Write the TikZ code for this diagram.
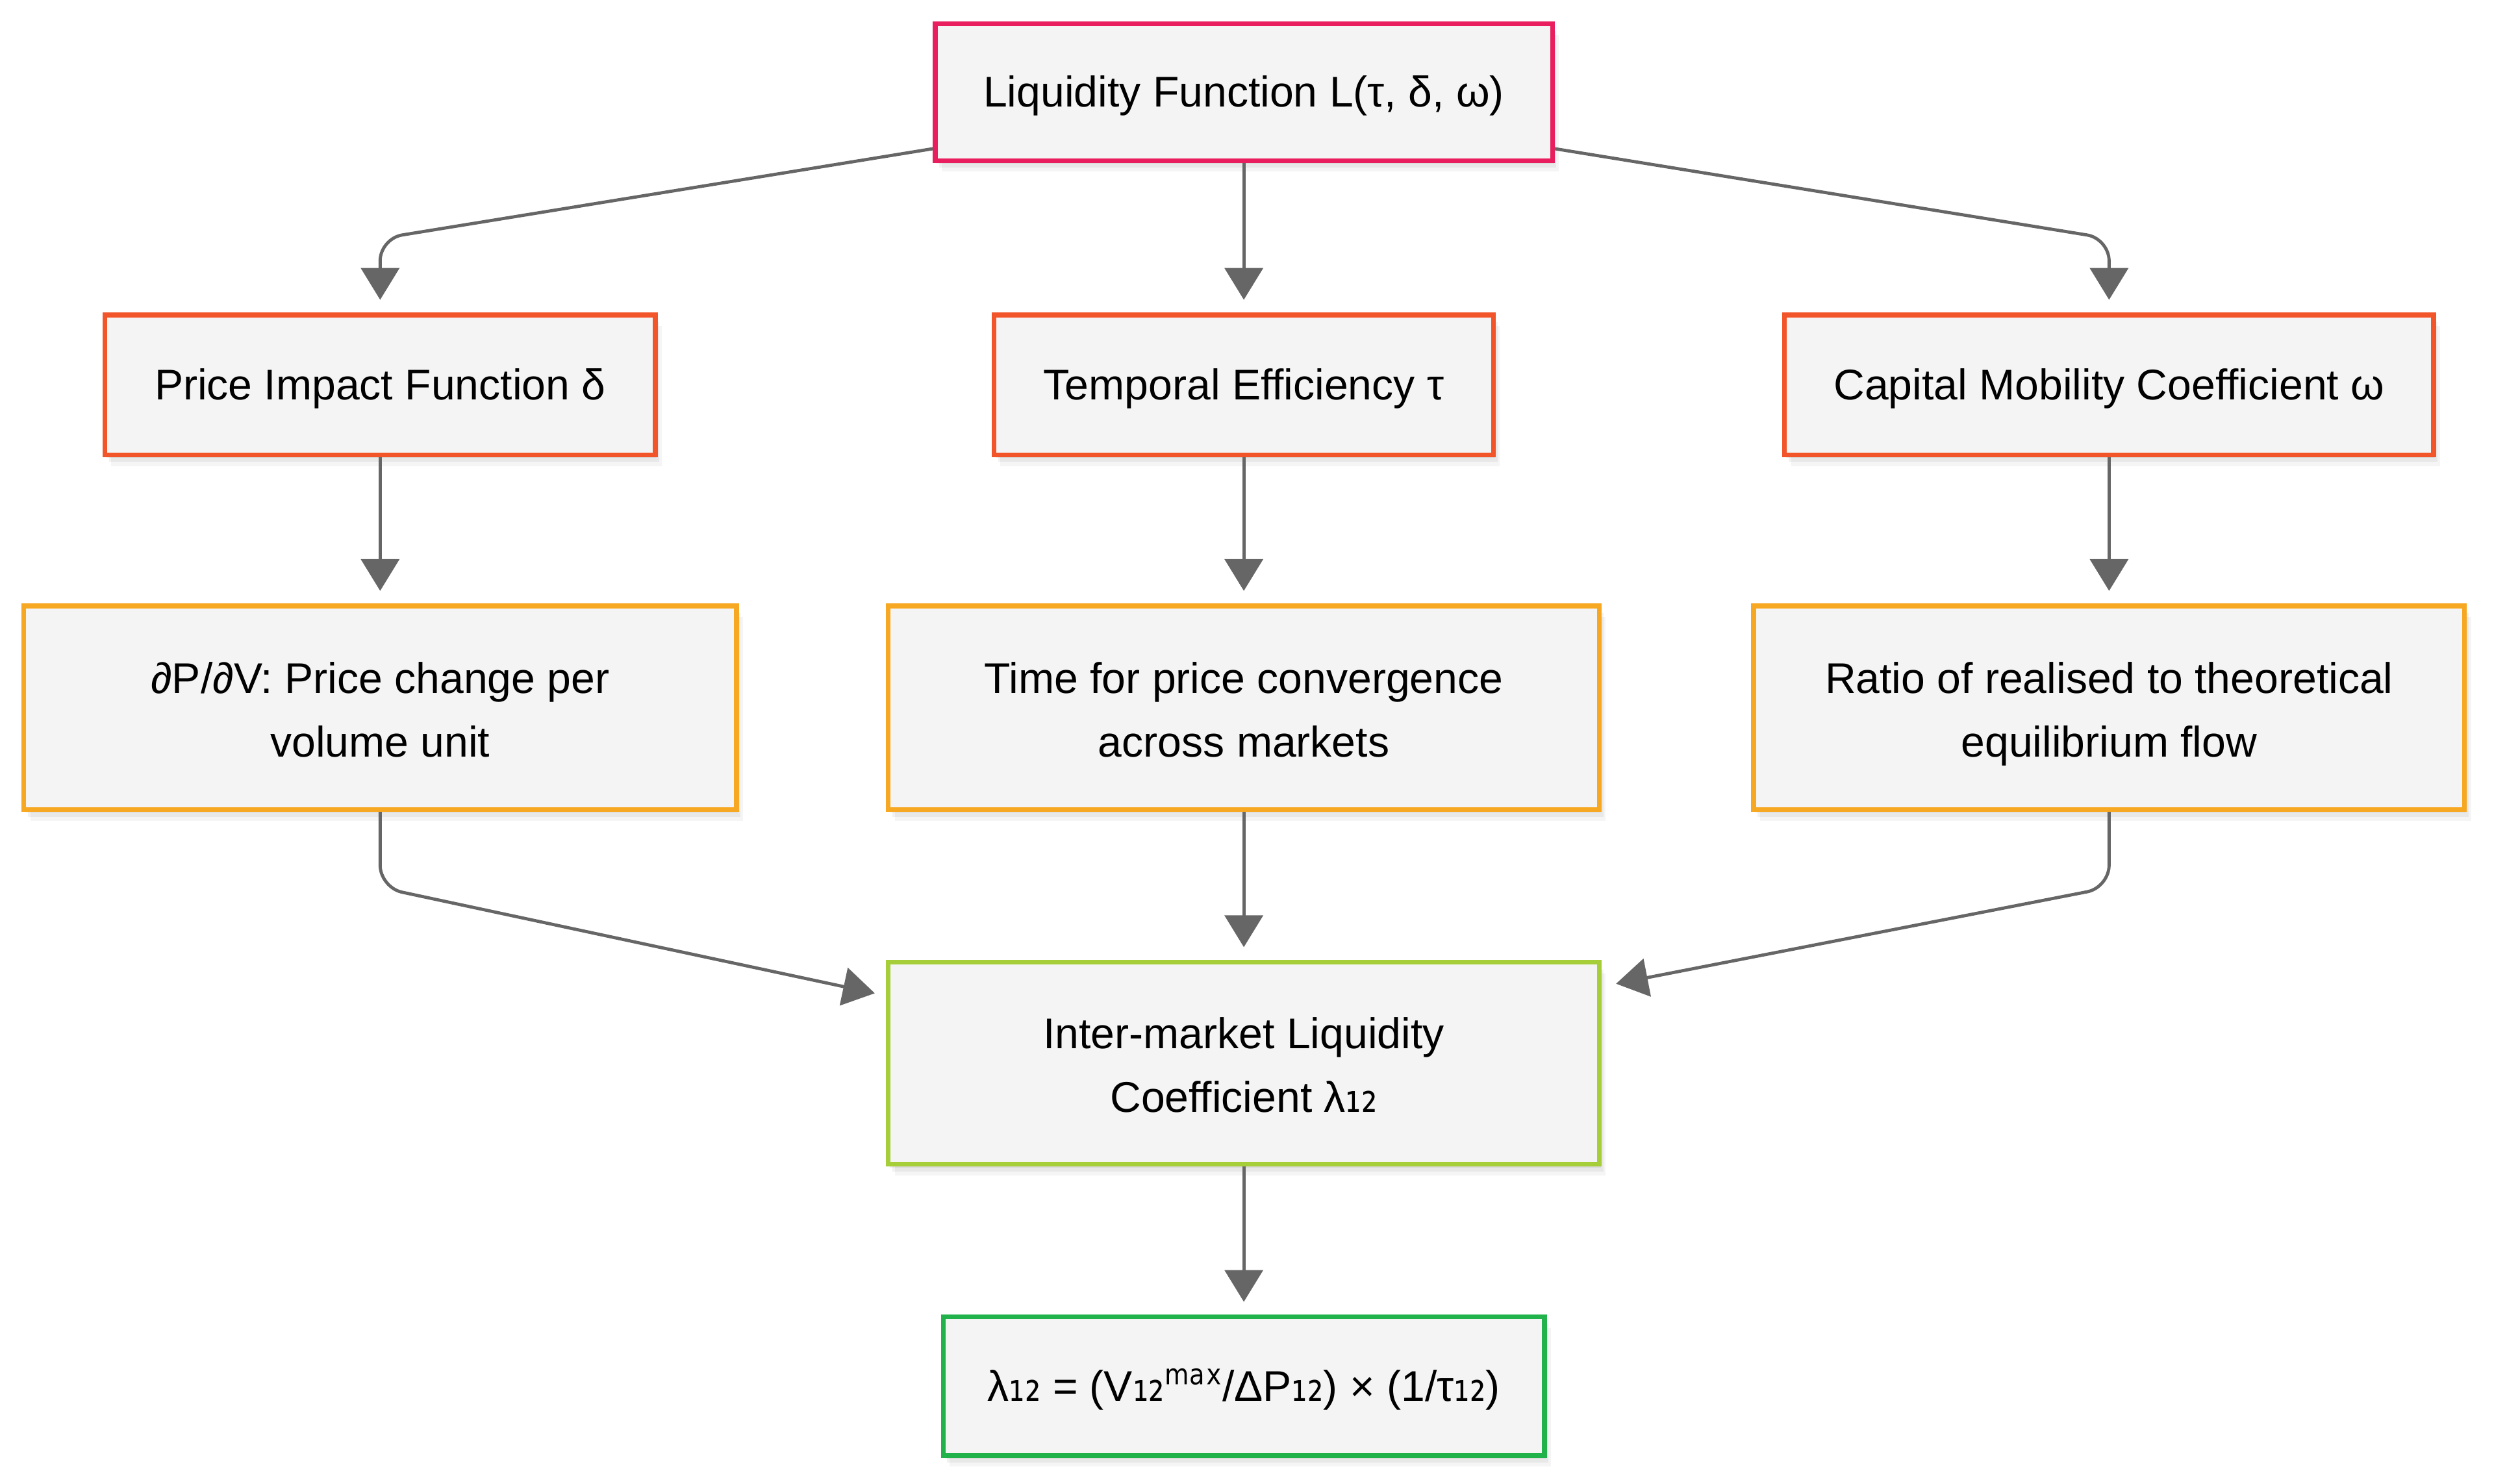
\documentclass[tikz,border=0pt]{standalone}
\usepackage{fontspec}
\setmainfont{Liberation Sans}
\newfontfamily\dv[FakeStretch=0.78]{DejaVu Sans}
\usetikzlibrary{arrows.meta,shadows}
\definecolor{boxfill}{HTML}{F4F4F4}
\definecolor{linegray}{HTML}{666666}
\definecolor{cTop}{HTML}{E91E5E}
\definecolor{cTwo}{HTML}{F25529}
\definecolor{cThree}{HTML}{F7A823}
\definecolor{cInter}{HTML}{A6CE39}
\definecolor{cBottom}{HTML}{22B24C}
\newcommand\linestrut{\vrule width0pt height24.4pt depth5.7pt\relax}
\newcommand\firststrut{\vrule width0pt height27.4pt depth5.7pt\relax}
\newcommand\subs[1]{{\dv\fontsize{32}{40}\selectfont #1}}
\tikzset{
  softshadow/.style={
    drop shadow={shadow xshift=1pt,shadow yshift=-2pt,opacity=0.06,fill=black},
    drop shadow={shadow xshift=2.5pt,shadow yshift=-4.5pt,opacity=0.05,fill=black},
    drop shadow={shadow xshift=4pt,shadow yshift=-7pt,opacity=0.04,fill=black}},
  box/.style={draw, line width=3pt, fill=boxfill, inner sep=0pt, align=center,
    font=\fontsize{27}{40}\selectfont, softshadow},
  conn/.style={draw=linegray, line width=2pt, rounded corners=14pt,
    -{Triangle[width=24pt,length=20pt]}, color=linegray}
}
\begin{document}
\begin{tikzpicture}[x=1pt,y=-1pt]
\useasboundingbox (0,0) rectangle (1568,933);
\fill[white] (0,0) rectangle (1568,933);

\node[box, draw=cTop, minimum width=388pt, minimum height=86pt] (top) at (782,58) {\linestrut Liquidity Function L(τ, δ, ω)};

\node[box, draw=cTwo, minimum width=346pt, minimum height=88pt] (p1) at (239,242) {\linestrut Price Impact Function δ};
\node[box, draw=cTwo, minimum width=314pt, minimum height=88pt] (p2) at (782,242) {\linestrut Temporal Efficiency τ};
\node[box, draw=cTwo, minimum width=408pt, minimum height=88pt] (p3) at (1326,242) {\linestrut Capital Mobility Coefficient ω};

\node[box, draw=cThree, minimum width=448pt, minimum height=128pt] (q1) at (239,445) {\firststrut ∂P/∂V: Price change per\\volume unit\linestrut};
\node[box, draw=cThree, minimum width=447pt, minimum height=128pt] (q2) at (782,445) {\firststrut Time for price convergence\\across markets\linestrut};
\node[box, draw=cThree, minimum width=447pt, minimum height=128pt] (q3) at (1326,445) {\firststrut Ratio of realised to theoretical\\equilibrium flow\linestrut};

\node[box, draw=cInter, minimum width=447pt, minimum height=127pt] (inter) at (782,668.5) {\firststrut Inter-market Liquidity\\Coefficient λ\subs{₁₂}\linestrut};

\node[box, draw=cBottom, minimum width=378pt, minimum height=87pt] (res) at (782,871.5) {\linestrut λ\subs{₁₂} = (V\subs{₁₂ᵐᵃˣ}/ΔP\subs{₁₂}) × (1/τ\subs{₁₂})};

% top to row 2
\draw[conn, shorten >=8pt] ([yshift=9pt]top.south west) -- (p1.north |- 0,150) -- (p1.north);
\draw[conn, shorten >=8pt] (top.south) -- (p2.north);
\draw[conn, shorten >=8pt] ([yshift=9pt]top.south east) -- (p3.north |- 0,150) -- (p3.north);

% row 2 to row 3
\draw[conn, shorten >=8pt] (p1.south) -- (q1.north);
\draw[conn, shorten >=8pt] (p2.south) -- (q2.north);
\draw[conn, shorten >=8pt] (p3.south) -- (q3.north);

% row 3 to inter
\draw[conn] (q1.south) -- (q1.south |- 0,558) -- ([xshift=-7pt,yshift=-21pt]inter.north west);
\draw[conn, shorten >=8pt] (q2.south) -- (inter.north);
\draw[conn] (q3.south) -- (q3.south |- 0,558) -- ([xshift=9pt,yshift=-15pt]inter.north east);

% inter to result
\draw[conn, shorten >=8pt] (inter.south) -- (res.north);
\end{tikzpicture}
\end{document}
